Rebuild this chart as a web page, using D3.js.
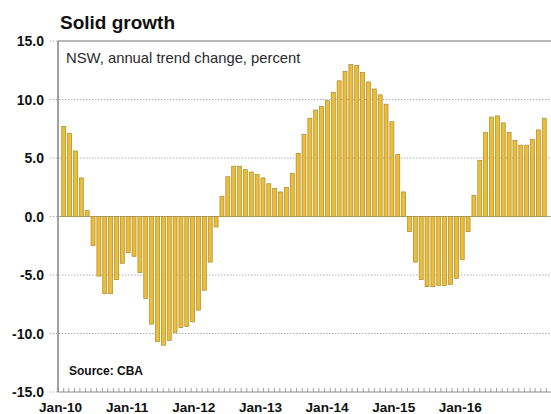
<!DOCTYPE html>
<html lang="en">
<head>
<meta charset="utf-8">
<title>Solid growth</title>
<script src="https://d3js.org/d3.v7.min.js"></script>
<style>
    body { margin: 0; background: #fff; }
    text { font-family: "Liberation Sans", Arial, sans-serif; }
</style>
</head>
<body>
<script>
    var width = 551,
        height = 414;

    // NSW annual trend change, percent, monthly from Jan-10
    var startMonth = new Date(2010, 0, 1);
    var values = [
        7.7, 7.1, 5.6, 3.3, 0.5, -2.5, -5.1, -6.6, -6.6, -5.4, -4.0, -3.1,
        -3.4, -4.8, -7.0, -9.2, -10.7, -11.0, -10.6, -9.9, -9.5, -9.4, -9.0, -8.0,
        -6.3, -3.9, -0.9, 1.7, 3.4, 4.3, 4.3, 4.0, 3.8, 3.6, 3.3, 2.8,
        2.4, 2.1, 2.5, 3.7, 5.4, 7.0, 8.4, 9.1, 9.4, 9.9, 10.6, 11.6,
        12.4, 13.0, 12.9, 12.3, 11.5, 10.9, 10.4, 9.6, 8.1, 5.3, 2.1, -1.3,
        -3.9, -5.4, -6.0, -6.0, -5.9, -5.9, -5.8, -5.3, -3.7, -1.3, 1.8, 4.8,
        7.2, 8.5, 8.6, 8.0, 7.2, 6.5, 6.1, 6.1, 6.6, 7.4, 8.4
    ];
    var yTicks = [15, 10, 5, 0, -5, -10, -15];
    var xLabels = ["Jan-10", "Jan-11", "Jan-12", "Jan-13", "Jan-14", "Jan-15", "Jan-16"];

    var svg = d3.select("body").append("svg")
        .attr("width", width)
        .attr("height", height);

    var plotLeft = 58, plotTop = 41, plotBottom = 392;

    // scales
    var y = d3.scaleLinear().domain([-15, 15]).range([plotBottom, plotTop]);

    var x = d3.scaleBand()
        .domain(d3.range(values.length))
        .range([60.8, 60.8 + values.length * 5.86])
        .paddingInner(0.32)
        .paddingOuter(0.16);

    // time axis used only for the month ticks and year labels
    var xTime = d3.scaleTime()
        .domain([startMonth, d3.timeMonth.offset(startMonth, 89)])
        .range([plotLeft, plotLeft + 89 * 5.55]);

    // title
    svg.append("text")
        .attr("x", 60).attr("y", 29)
        .style("font-size", "19px").style("font-weight", "bold")
        .attr("fill", "#111")
        .text("Solid growth");

    // gridlines
    svg.selectAll("line.grid")
        .data(yTicks.filter(function(d) { return d !== 0 && d !== -15 && d !== 15; }))
        .enter().append("line")
        .attr("class", "grid")
        .attr("x1", 50).attr("x2", width)
        .attr("y1", function(d) { return y(d); })
        .attr("y2", function(d) { return y(d); })
        .attr("stroke", "#9a9a9a")
        .attr("stroke-width", 0.8)
        .attr("stroke-dasharray", "1.5,1.5");

    // small tick stubs left of axis for the edge values
    svg.selectAll("line.stub")
        .data([15, 0, -15])
        .enter().append("line")
        .attr("class", "stub")
        .attr("x1", 50).attr("x2", plotLeft)
        .attr("y1", function(d) { return y(d); })
        .attr("y2", function(d) { return y(d); })
        .attr("stroke", "#9a9a9a")
        .attr("stroke-width", 0.8)
        .attr("stroke-dasharray", "1.5,1.5");

    // plot border top
    svg.append("line")
        .attr("x1", plotLeft).attr("x2", width)
        .attr("y1", plotTop).attr("y2", plotTop)
        .attr("stroke", "#6f6f6f").attr("stroke-width", 1.2);

    svg.append("text")
        .attr("x", 66).attr("y", 63)
        .style("font-size", "14.8px")
        .attr("fill", "#2a2a2a")
        .text("NSW, annual trend change, percent");

    // zero line
    svg.append("line")
        .attr("x1", plotLeft).attr("x2", width)
        .attr("y1", y(0)).attr("y2", y(0))
        .attr("stroke", "#a8a8a8").attr("stroke-width", 1);

    // bars
    svg.selectAll("rect.bar")
        .data(values)
        .enter().append("rect")
        .attr("class", "bar")
        .attr("x", function(d, i) { return x(i); })
        .attr("width", x.bandwidth())
        .attr("y", function(d) { return y(Math.max(0, d)); })
        .attr("height", function(d) { return Math.abs(y(d) - y(0)); })
        .attr("fill", "#ecbd35")
        .attr("stroke", "#a88a30")
        .attr("stroke-width", 0.7);

    // left axis line
    svg.append("line")
        .attr("x1", plotLeft).attr("x2", plotLeft)
        .attr("y1", plotTop).attr("y2", plotBottom)
        .attr("stroke", "#8a8a8a").attr("stroke-width", 1.6);

    // y labels (plain hyphen minus, as in the original)
    svg.selectAll("text.ylab")
        .data(yTicks)
        .enter().append("text")
        .attr("class", "ylab")
        .attr("x", 44)
        .attr("y", function(d) { return y(d) + 5; })
        .attr("text-anchor", "end")
        .style("font-size", "14px").style("font-weight", "bold")
        .attr("fill", "#111")
        .text(function(d) { return d.toFixed(1); });

    // bottom axis with monthly ticks pointing up
    svg.append("line")
        .attr("x1", plotLeft).attr("x2", width)
        .attr("y1", plotBottom).attr("y2", plotBottom)
        .attr("stroke", "#8a8a8a").attr("stroke-width", 1.2);

    svg.selectAll("line.mtick")
        .data(xTime.ticks(d3.timeMonth.every(1)))
        .enter().append("line")
        .attr("class", "mtick")
        .attr("x1", function(d) { return xTime(d); })
        .attr("x2", function(d) { return xTime(d); })
        .attr("y1", plotBottom).attr("y2", plotBottom - 4)
        .attr("stroke", "#8a8a8a").attr("stroke-width", 0.8);

    svg.selectAll("text.xlab")
        .data(xLabels)
        .enter().append("text")
        .attr("class", "xlab")
        .attr("x", function(d, i) { return xTime(d3.timeYear.offset(startMonth, i)) + 2.6; })
        .attr("y", 412)
        .attr("text-anchor", "middle")
        .style("font-size", "13.6px").style("font-weight", "bold")
        .attr("fill", "#111")
        .text(function(d) { return d; });

    svg.append("text")
        .attr("x", 69).attr("y", 375)
        .style("font-size", "12px").style("font-weight", "bold")
        .attr("fill", "#111")
        .text("Source: CBA");
</script>
</body>
</html>
